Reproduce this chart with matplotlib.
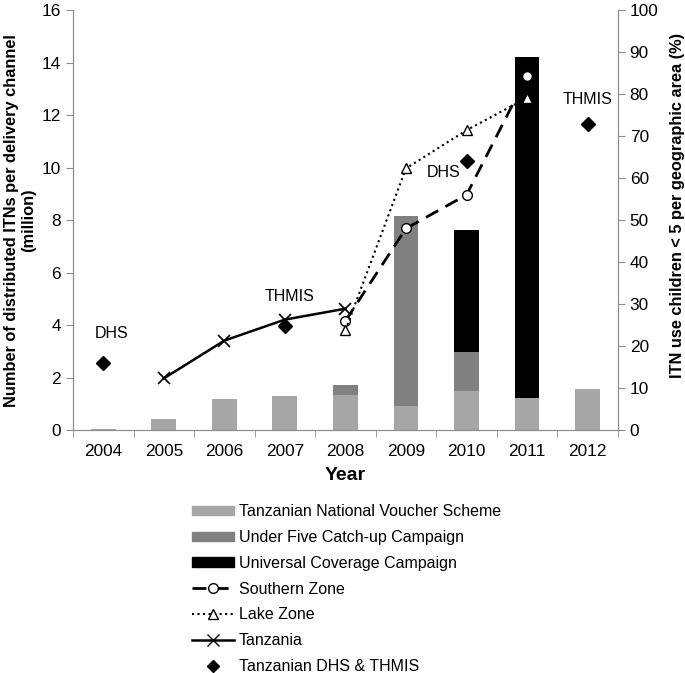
import numpy as np
import matplotlib
matplotlib.use("Agg")
import matplotlib.pyplot as plt
from matplotlib.patches import Patch
from matplotlib.lines import Line2D

plt.rcParams['font.family'] = ['Liberation Sans', 'DejaVu Sans']

# data
years = [2004, 2005, 2006, 2007, 2008, 2009, 2010, 2011, 2012]
voucher = [0.05, 0.42, 1.17, 1.30, 1.32, 0.91, 1.50, 1.21, 1.57]      # million
under_five = [0, 0, 0, 0, 0.39, 7.24, 1.46, 0, 0]
universal = [0, 0, 0, 0, 0, 0, 4.68, 13.01, 0]

southern_years = [2008, 2009, 2010, 2011]
southern = [26.0, 48.0, 56.0, 84.2]                                   # %
lake_years = [2008, 2009, 2010, 2011]
lake = [23.8, 62.3, 71.4, 79.1]
tz_years = [2005, 2006, 2007, 2008]
tanzania = [12.3, 21.3, 26.3, 28.9]
survey_years = [2004, 2007, 2010, 2012]
survey = [15.9, 24.8, 64.0, 72.8]
survey_labels = ["DHS", "THMIS", "DHS", "THMIS"]
label_pos = [(2004.14, 23.1), (2007.07, 31.7), (2009.63, 61.4), (2012.0, 78.8)]

c_nvs = "#a6a6a6"
c_u5 = "#808080"
c_ucc = "#000000"
spine = "#8c8c8c"

fig = plt.figure(figsize=(6.85, 6.73), dpi=100)
ax = fig.add_axes([0.1066, 0.361, 0.7954, 0.624])
ax2 = ax.twinx()

x = np.array(years)
w = 0.41
b1 = np.array(voucher)
b2 = b1 + np.array(under_five)
ax.bar(x, voucher, w, color=c_nvs, zorder=2)
ax.bar(x, under_five, w, bottom=b1, color=c_u5, zorder=2)
ax.bar(x, universal, w, bottom=b2, color=c_ucc, zorder=2)

ax.set_xlim(2003.5, 2012.5)
ax.set_ylim(0, 16)
ax.set_yticks(range(0, 17, 2))
ax.set_xticks(years)
ax.set_xticks(np.arange(2003.5, 2013, 1), minor=True)
ax.tick_params(axis='x', which='major', length=0, labelsize=12.4, pad=10)
ax.tick_params(axis='x', which='minor', length=5, color=spine, direction='out')
ax.tick_params(axis='y', length=5, color=spine, labelsize=12.4)
ax.set_xlabel("Year", fontsize=14, fontweight='bold', labelpad=6)
ax.set_ylabel("Number of distributed ITNs per delivery channel\n(million)",
              fontsize=11.8, fontweight='bold', labelpad=4)

ax2.set_ylim(0, 100)
ax2.set_yticks(range(0, 101, 10))
ax2.tick_params(axis='y', length=5, color=spine, labelsize=12.4)
ax2.set_ylabel("ITN use children < 5 per geographic area (%)",
               fontsize=11.8, fontweight='bold', labelpad=8)
ax2.yaxis.label.set_y(0.535)

for a in (ax, ax2):
    a.spines['top'].set_visible(False)
    for s in ('left', 'right', 'bottom'):
        a.spines[s].set_color(spine)

ax2.plot(southern_years, southern, color='black', lw=2, ls=(0, (5, 3)),
         marker='o', ms=7, mfc='white', mec='black', mew=1, zorder=3)
ax2.plot(lake_years, lake, color='black', lw=1.5, ls=':',
         marker='^', ms=7, mfc='white', mec='black', mew=1, zorder=3)
ax2.plot(tz_years, tanzania, color='black', lw=1.8,
         marker='x', ms=8, mew=1.2, zorder=3)
ax2.plot(survey_years, survey, ls='none', marker='D', ms=7,
         color='black', zorder=4)
for lab, (lx, ly) in zip(survey_labels, label_pos):
    ax2.text(lx, ly, lab, fontsize=11.5, ha='center', va='center')

handles = [
    Patch(color=c_nvs, label="Tanzanian National Voucher Scheme"),
    Patch(color=c_u5, label="Under Five Catch-up Campaign"),
    Patch(color=c_ucc, label="Universal Coverage Campaign"),
    Line2D([], [], color='black', lw=2, ls=(0, (5, 3)), marker='o', ms=7,
           mfc='white', mec='black', label="Southern Zone"),
    Line2D([], [], color='black', lw=1.5, ls=':', marker='^', ms=7,
           mfc='white', mec='black', label="Lake Zone"),
    Line2D([], [], color='black', lw=1.8, marker='x', ms=8, label="Tanzania"),
    Line2D([], [], ls='none', marker='D', ms=6, color='black',
           label="Tanzanian DHS & THMIS"),
]
fig.legend(handles=handles, loc='upper left', bbox_to_anchor=(0.26, 0.2725),
           frameon=False, fontsize=11.5, handlelength=2.6, handleheight=0.5,
           labelspacing=0.68, handletextpad=0.3)

fig.savefig("out.png", dpi=100)
